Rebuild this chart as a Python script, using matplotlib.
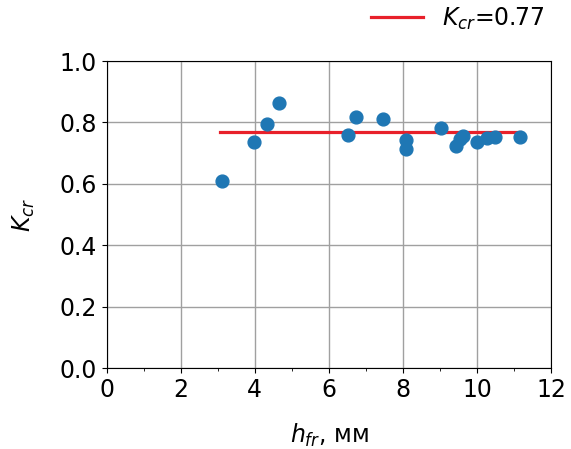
import numpy as np
import matplotlib.pyplot as plt
from matplotlib.ticker import MultipleLocator

h_fr = [3.10, 3.98, 4.32, 4.65, 6.52, 6.74, 7.47, 8.08, 8.08, 9.02,
        9.43, 9.54, 9.62, 10.01, 10.26, 10.49, 11.16]
k_cr = [0.609, 0.738, 0.795, 0.864, 0.759, 0.819, 0.810, 0.743, 0.713, 0.781,
        0.724, 0.745, 0.755, 0.736, 0.748, 0.752, 0.752]
k_mean = 0.77
line_x = [3.05, 11.15]

plt.rcParams['font.family'] = ['DejaVu Sans']
fig = plt.figure(figsize=(5.71, 4.49), dpi=100)
ax = fig.add_axes([0.187, 0.180, 0.778, 0.684])

ax.scatter(h_fr, k_cr, s=85, color='#1f77b4', zorder=3)
ax.plot(line_x, [k_mean, k_mean], color='#e8202a', lw=2.3, zorder=2,
        label=r'$K_{cr}$=0.77')

ax.set_xlim(0, 12)
ax.set_ylim(0, 1.0)
ax.xaxis.set_major_locator(MultipleLocator(2))
ax.xaxis.set_minor_locator(MultipleLocator(1))
ax.yaxis.set_major_locator(MultipleLocator(0.2))
ax.grid(True, color='#a0a0a0', lw=1)
ax.set_axisbelow(True)
ax.tick_params(labelsize=17)
ax.set_xlabel(r'$h_{fr}$, мм', fontsize=17, labelpad=14)
ax.set_ylabel(r'$K_{cr}$', fontsize=17, labelpad=16)

fig.legend(loc='upper right', bbox_to_anchor=(0.99, 1.035), frameon=False,
           fontsize=17, handlelength=2.2)

fig.savefig('out.png', dpi=100)
